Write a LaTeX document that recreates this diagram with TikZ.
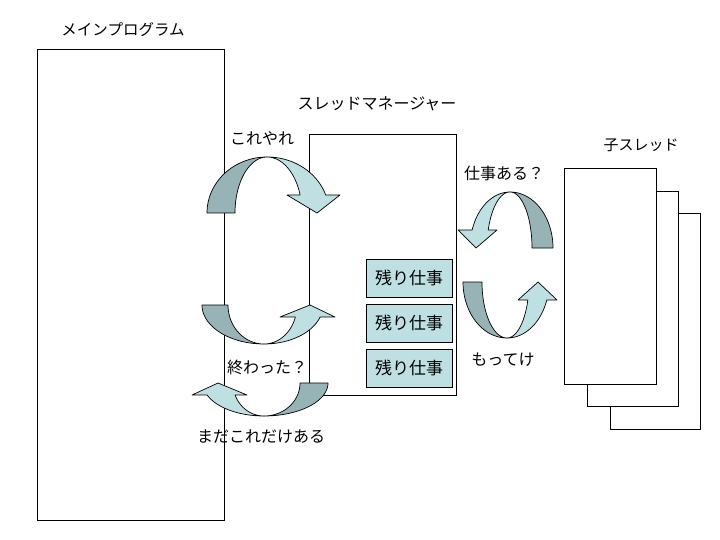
\documentclass[tikz,border=0pt]{standalone}
\usepackage{fontspec}
\newfontfamily\jp{Noto Sans CJK JP}
\definecolor{darkb}{RGB}{151,179,181}
\definecolor{lightb}{RGB}{190,224,227}
\tikzset{
  frame/.style={draw=black, line width=0.9pt, fill=white, inner sep=0pt},
  task/.style={draw=black, line width=0.9pt, fill=lightb, inner sep=0pt,
               minimum width=86pt, minimum height=38pt, font=\jp\fontsize{17}{20}\selectfont},
  lbl/.style={inner sep=0pt, font=\jp\fontsize{16}{19}\selectfont},
  back/.style={fill=darkb, draw=black, line width=0.7pt, line join=round},
  front/.style={fill=lightb, draw=black, line width=0.7pt, line join=round}
}
\begin{document}
\begin{tikzpicture}[x=1pt,y=-1pt]
\useasboundingbox (0,0) rectangle (720,540);
\fill[white] (0,0) rectangle (720,540);

% main program
\node[frame, minimum width=187pt, minimum height=471pt] (main) at (130.5,284.5) {};
\node[lbl, font=\jp\fontsize{15.5}{19}\selectfont] (mainlbl) at (123,30) {メインプログラム};

% thread manager
\node[frame, minimum width=147pt, minimum height=261pt] (mgr) at (382.5,264.5) {};
\node[lbl] (mgrlbl) at (377,104) {スレッドマネージャー};
\node[task] (t1) at (409,278) {残り仕事};
\node[task] (t2) at (409,323) {残り仕事};
\node[task] (t3) at (409,368) {残り仕事};

% child threads
\node[frame, minimum width=90pt, minimum height=216pt] (c3) at (655,321) {};
\node[frame, minimum width=91pt, minimum height=215pt] (c2) at (632.5,298.5) {};
\node[frame, minimum width=92pt, minimum height=216pt] (c1) at (610,276) {};
\node[lbl, font=\jp\fontsize{15}{19}\selectfont] (childlbl) at (641,145) {子スレッド};

% arrow A (これやれ)
\filldraw[back] plot[domain=180:90, samples=40] ({267+60*cos(\x)},{213-56*sin(\x)})
  -- plot[domain=90:180, samples=40] ({267+32*cos(\x)},{213-56*sin(\x)}) -- cycle;
\filldraw[front] plot[domain=90:18.75, samples=40] ({267+62*cos(\x)},{213-56*sin(\x)})
  -- (340,195) -- (317,213) -- (287,195)
  -- plot[domain=18.75:90, samples=40] ({267+35*cos(\x)},{213-56*sin(\x)}) -- cycle;
\node[lbl] (doit) at (262,138) {これやれ};

% arrow B (終わった？)
\filldraw[back] plot[domain=180:90, samples=40] ({264+62*cos(\x)},{305+39*sin(\x)})
  -- plot[domain=90:180, samples=40] ({264+36*cos(\x)},{305+39*sin(\x)}) -- cycle;
\filldraw[front] plot[domain=90:17.9, samples=40] ({264+59*cos(\x)},{305+39*sin(\x)})
  -- (335,317) -- (310,305) -- (280,317)
  -- plot[domain=17.9:90, samples=40] ({264+33*cos(\x)},{305+39*sin(\x)}) -- cycle;
\node[lbl] (done) at (267,367) {終わった？};

% arrow C (まだこれだけある)
\filldraw[back] plot[domain=0:90, samples=40] ({264+64*cos(\x)},{383+33*sin(\x)})
  -- plot[domain=90:0, samples=40] ({264+36*cos(\x)},{383+33*sin(\x)}) -- cycle;
\filldraw[front] plot[domain=90:158.7, samples=40] ({264+61*cos(\x)},{383+33*sin(\x)})
  -- (192,395) -- (218,383) -- (247,395)
  -- plot[domain=158.7:90, samples=40] ({264+31*cos(\x)},{383+33*sin(\x)}) -- cycle;
\node[lbl] (left) at (261,437) {まだこれだけある};

% arrow D (仕事ある？)
\filldraw[back] plot[domain=0:90, samples=40] ({510+43*cos(\x)},{248-56*sin(\x)})
  -- plot[domain=90:0, samples=40] ({510+22*cos(\x)},{248-56*sin(\x)}) -- cycle;
\filldraw[front] plot[domain=90:161.25, samples=40] ({510+40*cos(\x)},{248-56*sin(\x)})
  -- (458,230) -- (476,248) -- (497,230)
  -- plot[domain=161.25:90, samples=40] ({510+23*cos(\x)},{248-56*sin(\x)}) -- cycle;
\node[lbl] (ask) at (504,173) {仕事ある？};

% arrow E (もってけ)
\filldraw[back] plot[domain=180:90, samples=40] ({507+44*cos(\x)},{282+56*sin(\x)})
  -- plot[domain=90:180, samples=40] ({507+25*cos(\x)},{282+56*sin(\x)}) -- cycle;
\filldraw[front] plot[domain=90:18.75, samples=40] ({507+42*cos(\x)},{282+56*sin(\x)})
  -- (557,300) -- (538,282) -- (518,300)
  -- plot[domain=18.75:90, samples=40] ({507+22*cos(\x)},{282+56*sin(\x)}) -- cycle;
\node[lbl] (take) at (503,360) {もってけ};
\end{tikzpicture}
\end{document}
